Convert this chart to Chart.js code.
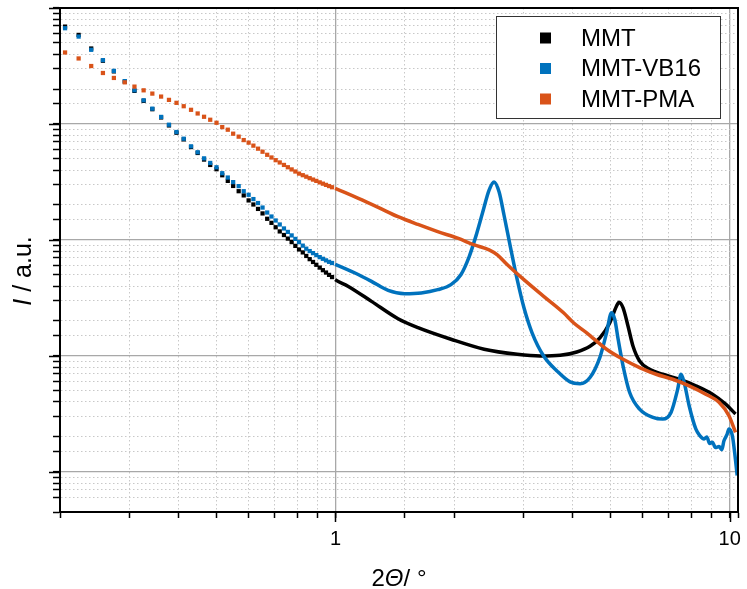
<!DOCTYPE html>
<html>
<head>
<meta charset="utf-8">
<script src="https://cdn.jsdelivr.net/npm/chart.js@4"></script>
<style>
  html, body { margin: 0; padding: 0; background: #fff; }
</style>
</head>
<body>
<canvas id="saxs" width="747" height="589"></canvas>
<script>
/* eslint-disable no-undef */
// 2theta values of the first (separately visible) measuring points, same for all three samples
const lowAngle = [0.206, 0.223, 0.240, 0.257, 0.274, 0.292, 0.309, 0.326, 0.343, 0.361, 0.378, 0.395, 0.412,
  0.430, 0.447, 0.464, 0.481, 0.499, 0.516, 0.533, 0.550, 0.568, 0.585, 0.602, 0.619, 0.636,
  0.653, 0.671, 0.688, 0.705, 0.722, 0.740, 0.757, 0.774, 0.791, 0.808, 0.826, 0.843, 0.860,
  0.877, 0.894, 0.912, 0.929, 0.946, 0.963, 0.980, 0.998];

const mmtX = lowAngle.concat([1.078, 1.234, 1.441,
  1.619, 1.963, 2.383, 2.891, 3.308, 3.715, 4.094, 4.422, 4.686, 4.966,
  5.162, 5.243, 5.366, 5.524, 5.687, 5.909, 6.262, 6.767, 7.451, 8.206,
  9.044, 9.770, 10.35]);
const mmtY = [6910, 5861, 4473, 3508, 2840, 2316, 1928, 1582, 1340, 1137, 971, 840, 736,
  632, 562, 493, 443, 407, 361, 323, 292, 263, 242, 219, 202, 185,
  169.2, 152.1, 140.3, 128.5, 118.3, 110.2, 102.6, 95.7, 88.8, 82.7, 78.0, 72.7, 68.2,
  64.5, 61.0, 57.7, 54.8, 52.3, 49.9, 47.8, 45.4,
  39.7, 29.5, 20.9,
  17.5, 13.9, 11.4, 10.3, 9.96, 10.1, 10.8, 12.1, 14.3, 19.3,
  26.8, 29.0, 25.9, 18.0, 12.1, 9.03, 7.66, 6.94, 6.28, 5.51,
  4.67, 3.83, 3.15];

const vbX = lowAngle.concat([1.121, 1.234, 1.360, 1.498, 1.650, 1.817, 1.963,
  2.080, 2.184, 2.269, 2.359, 2.453, 2.525, 2.600, 2.676, 2.781, 2.891,
  3.006, 3.153, 3.374, 3.646, 3.937, 4.173, 4.422, 4.686, 4.872, 5.015,
  5.112, 5.213, 5.366, 5.576, 5.909, 6.387, 6.767, 7.100, 7.383, 7.525,
  7.668, 7.893, 8.206, 8.4, 8.612, 8.75, 8.9, 9.044, 9.2, 9.397,
  9.55, 9.674, 9.85, 9.959, 10.16, 10.3, 10.45]);
const vbY = [6694, 5670, 4360, 3550, 2870, 2340, 1950, 1600, 1355, 1150, 985, 852, 746,
  641, 570, 505, 461, 423, 376, 345, 315, 291, 263, 245, 225, 208,
  190.1, 172.2, 159.1, 147.0, 135.8, 125.5, 117.2, 109.3, 102.0, 95.6, 89.2, 84.0, 80.1,
  76.9, 73.9, 71.0, 68.7, 66.6, 64.7, 63.2, 61.6,
  51.8, 43.9, 36.7, 34.4, 34.9, 37.2, 41.1,
  50.1, 71.9, 106.7, 169.5, 268.7, 316.5, 259.8, 163.9, 85.4, 45.4,
  26.1, 15.8, 9.96, 7.41, 5.96, 5.75, 6.50, 9.71, 15.8, 23.5,
  20.6, 13.9, 8.17, 4.83, 3.47, 2.95, 2.85, 3.25, 5.16, 6.94,
  5.89, 3.71, 2.34, 2.05, 1.92, 2.0, 1.75, 1.80, 1.62, 1.65,
  1.55, 1.85, 2.1, 2.34, 2.05, 1.45, 0.93];

const pmaX = lowAngle.concat([1.143, 1.283, 1.441, 1.619, 1.817, 2.041,
  2.248, 2.453, 2.574, 2.729, 3.006, 3.374, 3.789, 4.016, 4.338, 4.872,
  5.366, 5.909, 6.508, 7.171, 7.893, 8.697, 9.397, 9.959, 10.35]);
const pmaY = [4133, 3671, 3159, 2751, 2493, 2285, 2099, 1950, 1827, 1722, 1613, 1521, 1422,
  1324, 1231, 1153, 1087, 1024, 939, 892, 824, 777, 726, 690, 650, 612,
  576.1, 542.0, 513.7, 487.0, 465.3, 443.1, 423.3, 405.3, 388.8, 373.0, 361.4, 350.9, 340.6,
  331.3, 322.9, 313.4, 305.5, 298.3, 291.3, 284.5, 277.8,
  228.0, 190.8, 158.5, 135.8, 117.8, 103.4,
  90.6, 82.1, 74.3, 61.0, 45.4, 32.6, 23.5, 19.3, 15.8, 11.4,
  9.33, 7.92, 6.94, 6.28, 5.51, 4.67, 3.97, 3.04, 2.19];

const labels = ['MMT', 'MMT-VB16', 'MMT-PMA'];
const colors = ['#000000', '#0072BD', '#D95319'];

const FONT = '"Liberation Sans", Arial, sans-serif';
const sparseEnd = 0.99; // below this the points are drawn one by one

const isDecade = (v) => Math.abs(Math.log10(v) - Math.round(Math.log10(v))) < 1e-9;
const pts = (xs, ys) => xs.map((x, i) => ({x: x, y: ys[i]}));

const series = [pts(mmtX, mmtY), pts(vbX, vbY), pts(pmaX, pmaY)];

const gridColor = (c) => (c.tick && isDecade(c.tick.value) ? '#a8a8a8' : '#c8c8c8');
const gridWidth = (c) => (c.tick && isDecade(c.tick.value) ? 1.3 : 1);
const gridDash = (c) => (c.tick && !isDecade(c.tick.value) ? [1.5, 2.5] : []);

// frame, longer decade ticks, axis titles and boxed legend
const decor = {
  id: 'decor',
  afterDraw(chart) {
    const {ctx, chartArea: a, scales} = chart;
    ctx.save();
    ctx.strokeStyle = '#000';
    ctx.lineWidth = 2;
    ctx.beginPath();
    ctx.moveTo(a.left, a.top);
    ctx.lineTo(a.right, a.top);
    ctx.lineTo(a.right, a.bottom);
    ctx.stroke();

    ctx.lineWidth = 1.5;
    scales.x.ticks.forEach((t) => {
      if (!isDecade(t.value)) return;
      const px = Math.round(scales.x.getPixelForValue(t.value)) + 0.5;
      ctx.beginPath(); ctx.moveTo(px, a.bottom); ctx.lineTo(px, a.bottom + 10); ctx.stroke();
    });
    scales.y.ticks.forEach((t) => {
      if (!isDecade(t.value)) return;
      const py = Math.round(scales.y.getPixelForValue(t.value)) + 0.5;
      ctx.beginPath(); ctx.moveTo(a.left - 11, py); ctx.lineTo(a.left, py); ctx.stroke();
    });

    // axis titles with italic symbols
    const drawParts = (parts, size) => {
      const widths = parts.map((p) => {
        ctx.font = (p[1] ? 'italic ' : '') + size + 'px ' + FONT;
        return ctx.measureText(p[0]).width;
      });
      let x = -widths.reduce((s, w) => s + w, 0) / 2;
      parts.forEach((p, i) => {
        ctx.font = (p[1] ? 'italic ' : '') + size + 'px ' + FONT;
        ctx.fillText(p[0], x, 0);
        x += widths[i];
      });
    };
    ctx.fillStyle = '#000';
    ctx.textBaseline = 'alphabetic';
    ctx.textAlign = 'left';
    ctx.save();
    ctx.translate((a.left + a.right) / 2, 586);
    drawParts([['2', false], ['\u0398', true], ['/ \u00b0', false]], 24);
    ctx.restore();
    ctx.save();
    ctx.translate(31, (a.top + a.bottom) / 2 + 11);
    ctx.rotate(-Math.PI / 2);
    drawParts([['I', true], [' / a.u.', false]], 25);
    ctx.restore();

    // legend
    const bx = a.right - 242, by = a.top + 8, bw = 224, bh = 102;
    ctx.fillStyle = '#fff';
    ctx.fillRect(bx, by, bw, bh);
    ctx.strokeStyle = '#333';
    ctx.lineWidth = 1;
    ctx.strokeRect(bx + 0.5, by + 0.5, bw, bh);
    ctx.font = '24px ' + FONT;
    ctx.textBaseline = 'middle';
    chart.data.datasets.forEach((ds, i) => {
      const cy = by + 22 + i * 30.5;
      ctx.fillStyle = ds.borderColor;
      ctx.fillRect(bx + 44, cy - 5.5, 11, 11);
      ctx.fillStyle = '#000';
      ctx.fillText(ds.label, bx + 85, cy + 1);
    });
    ctx.restore();
  },
};

new Chart(document.getElementById('saxs'), {
  type: 'scatter',
  data: {
    datasets: series.map((data, i) => ({
      label: labels[i],
      data: data,
      showLine: true,
      borderColor: colors[i],
      backgroundColor: colors[i],
      borderWidth: 3.5,
      cubicInterpolationMode: 'monotone',
      pointStyle: 'rect',
      pointBorderWidth: 0,
      pointRadius: (c) => (c.raw && c.raw.x < sparseEnd ? 3 : 0),
      segment: {
        borderColor: (c) => (c.p0.parsed.x < sparseEnd ? 'rgba(0,0,0,0)' : undefined),
      },
      order: 3 - i,
    })),
  },
  options: {
    responsive: false,
    animation: false,
    events: [],
    layout: {padding: {top: 8, right: 5, left: 0, bottom: 0}},
    plugins: {
      legend: {display: false},
      tooltip: {enabled: false},
    },
    scales: {
      x: {
        type: 'logarithmic',
        min: 0.2,
        max: 10.5,
        afterFit: (s) => { s.height = 77; },
        border: {color: '#000', width: 2, dash: gridDash},
        grid: {color: gridColor, lineWidth: gridWidth, tickColor: '#000', tickWidth: 1.5,
          tickLength: 6, tickBorderDash: []},
        ticks: {
          autoSkip: false,
          maxRotation: 0,
          padding: 9,
          color: '#000',
          font: {family: FONT, size: 20},
          callback: (v) => (isDecade(v) && v >= 1 ? String(Math.round(v)) : ''),
        },
      },
      y: {
        type: 'logarithmic',
        min: 0.45,
        max: 10000,
        afterFit: (s) => { s.width = 60; },
        border: {color: '#000', width: 2, dash: gridDash},
        grid: {color: gridColor, lineWidth: gridWidth, tickColor: '#000', tickWidth: 1.5,
          tickLength: 7, tickBorderDash: []},
        ticks: {display: false, autoSkip: false},
      },
    },
  },
  plugins: [decor],
});
</script>
</body>
</html>
